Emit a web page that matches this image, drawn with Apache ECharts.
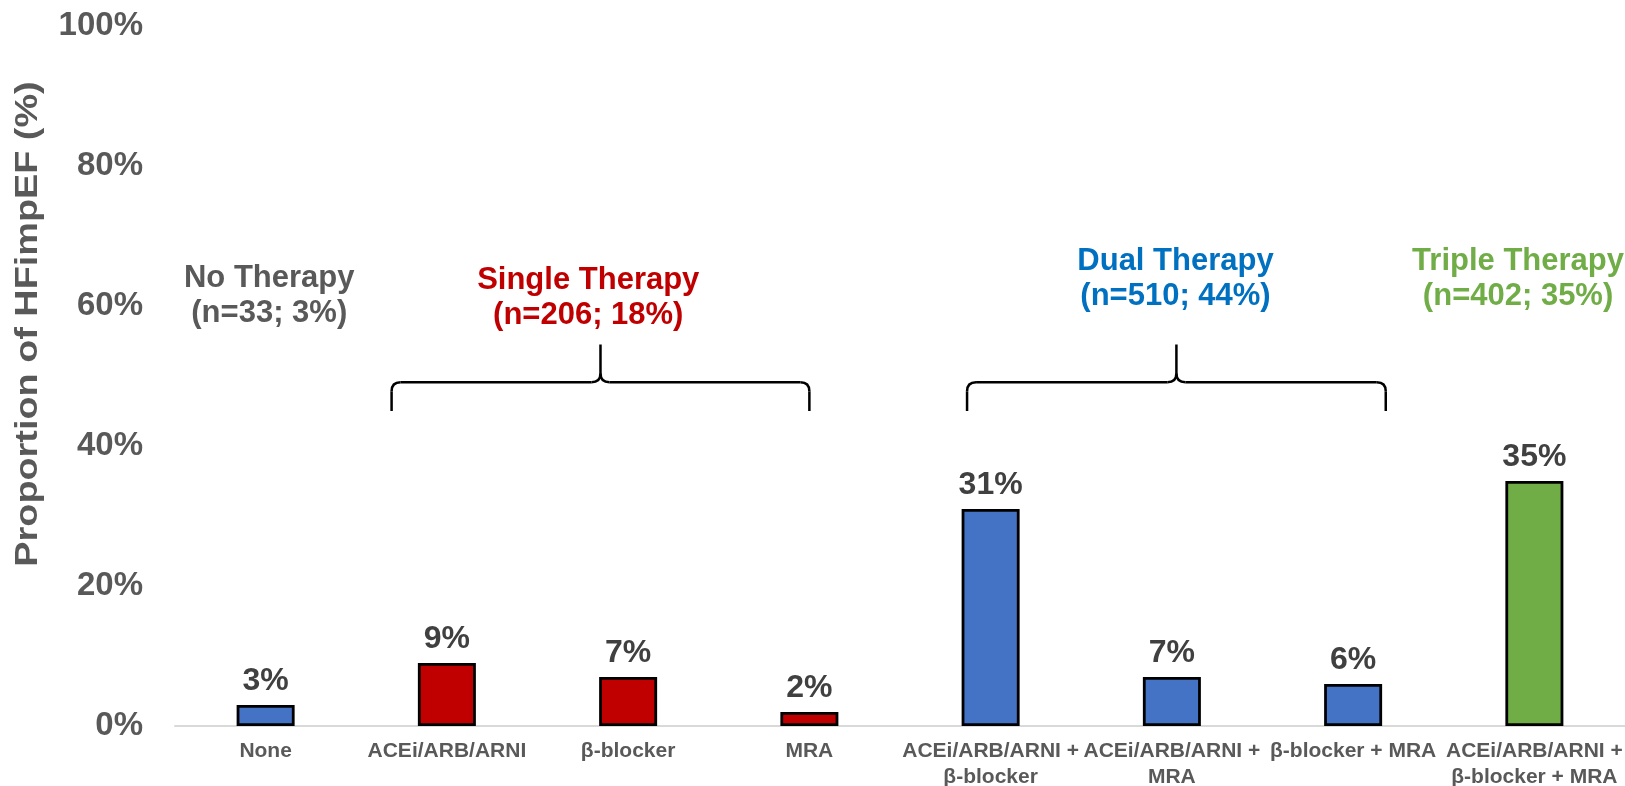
<!DOCTYPE html>
<html>
<head>
<meta charset="utf-8">
<script src="https://cdn.jsdelivr.net/npm/echarts@6/dist/echarts.min.js"></script>
<style>
  html, body { margin: 0; padding: 0; background: #ffffff; }
  #chart { width: 1625px; height: 786px; }
</style>
</head>
<body>
<div id="chart"></div>
<script>
// ---- data ----
const categories = [
  'None',
  'ACEi/ARB/ARNI',
  'β-blocker',
  'MRA',
  'ACEi/ARB/ARNI +\nβ-blocker',
  'ACEi/ARB/ARNI +\nMRA',
  'β-blocker + MRA',
  'ACEi/ARB/ARNI +\nβ-blocker + MRA'
];
const proportions = [3, 9, 7, 2, 31, 7, 6, 35];
const therapyGroup = ['none', 'single', 'single', 'single', 'dual', 'dual', 'dual', 'triple'];
const yTicks = [0, 20, 40, 60, 80, 100];

const groupNames = ['No Therapy', 'Single Therapy', 'Dual Therapy', 'Triple Therapy'];
const groupN = [33, 206, 510, 402];
const groupPct = [3, 18, 44, 35];

// ---- styling ----
const FONT = '"Liberation Sans", Arial, Helvetica, sans-serif';
const barColors = { none: '#4472C4', single: '#C00000', dual: '#4472C4', triple: '#70AD47' };
const groupTextColors = ['#595959', '#C00000', '#0070C0', '#70AD47'];

const chart = echarts.init(document.getElementById('chart'), null, { renderer: 'canvas' });

chart.setOption({
  animation: false,
  backgroundColor: '#ffffff',
  grid: { left: 175, right: 0, top: 26, bottom: 60, containLabel: false, outerBoundsMode: 'none' },
  xAxis: {
    type: 'category',
    data: categories,
    axisLine: { show: true, lineStyle: { color: '#D9D9D9', width: 2 } },
    axisTick: { show: false },
    axisLabel: {
      interval: 0,
      margin: 12,
      color: '#595959',
      fontFamily: FONT,
      fontWeight: 'bold',
      fontSize: 21,
      lineHeight: 26
    }
  },
  yAxis: {
    type: 'value',
    min: yTicks[0],
    max: yTicks[yTicks.length - 1],
    interval: yTicks[1] - yTicks[0],
    axisLine: { show: false },
    axisTick: { show: false },
    splitLine: { show: false },
    axisLabel: {
      margin: 32,
      padding: [5, 0, 0, 0],
      color: '#595959',
      fontFamily: FONT,
      fontWeight: 'bold',
      fontSize: 33,
      formatter: '{value}%'
    }
  },
  series: [{
    type: 'bar',
    barWidth: 58,
    data: proportions.map((v, i) => ({
      value: v,
      itemStyle: { color: barColors[therapyGroup[i]] }
    })),
    itemStyle: { borderColor: '#000000', borderWidth: 2.8 },
    label: {
      show: true,
      position: 'top',
      distance: 8,
      formatter: '{c}%',
      color: '#404040',
      fontFamily: FONT,
      fontWeight: 'bold',
      fontSize: 32
    }
  }]
});

// ---- annotations: group headings and braces, placed through the axes ----
function xAt(i) {
  const a = chart.convertToPixel({ xAxisIndex: 0 }, 0);
  const b = chart.convertToPixel({ xAxisIndex: 0 }, 1);
  return a + (b - a) * i;
}
function yAt(v) {
  return chart.convertToPixel({ yAxisIndex: 0 }, v);
}

const braceStyle = { stroke: '#000000', lineWidth: 2.5, fill: null, lineCap: 'butt' };

// a horizontal curly brace built from straight runs and quadratic corners
function braceParts(l, r, yLine, yEnd, yTip) {
  const c = (l + r) / 2;
  const k = 9;
  const line = (x1, y1, x2, y2) => ({ type: 'line', shape: { x1, y1, x2, y2 }, style: braceStyle });
  const curve = (x1, y1, cpx1, cpy1, x2, y2) => ({ type: 'bezierCurve', shape: { x1, y1, cpx1, cpy1, x2, y2 }, style: braceStyle });
  return [
    line(l, yEnd, l, yLine + k),
    curve(l, yLine + k, l, yLine, l + k, yLine),
    line(l + k, yLine, c - k, yLine),
    curve(c - k, yLine, c, yLine, c, yLine - k),
    line(c, yLine - k, c, yTip),
    curve(c, yLine - k, c, yLine, c + k, yLine),
    line(c + k, yLine, r - k, yLine),
    curve(r - k, yLine, r, yLine, r, yLine + k),
    line(r, yLine + k, r, yEnd)
  ];
}

// heading anchors in category-index units, first-line centres in axis percent
const headingAnchor = [0.02, 1.78, 5.02, 6.91];
const headingLevel = [64.0, 63.7, 66.4, 66.4];
const headingLine = 35;
// brace spans in category-index units
const braceSpans = [[0.695, 3.0], [3.87, 6.18]];

const graphics = [];

groupNames.forEach((name, i) => {
  graphics.push({
    type: 'text',
    x: xAt(headingAnchor[i]),
    y: yAt(headingLevel[i]) - headingLine / 2,
    style: {
      text: name + '\n(n=' + groupN[i] + '; ' + groupPct[i] + '%)',
      fill: groupTextColors[i],
      font: 'bold 31px ' + FONT,
      lineHeight: headingLine,
      textAlign: 'center',
      textVerticalAlign: 'top'
    }
  });
});

braceSpans.forEach(([a, b]) => {
  braceParts(xAt(a), xAt(b), yAt(49.1), yAt(45.0), yAt(54.5)).forEach(p => graphics.push(p));
});

// y-axis title
graphics.push({
  type: 'text',
  x: 28,
  y: 324,
  rotation: Math.PI / 2,
  scaleX: 1.22,
  style: {
    text: 'Proportion of HFimpEF (%)',
    fill: '#595959',
    font: 'bold 31px ' + FONT,
    textAlign: 'center',
    textVerticalAlign: 'middle'
  }
});

chart.setOption({ graphic: graphics });
</script>
</body>
</html>
